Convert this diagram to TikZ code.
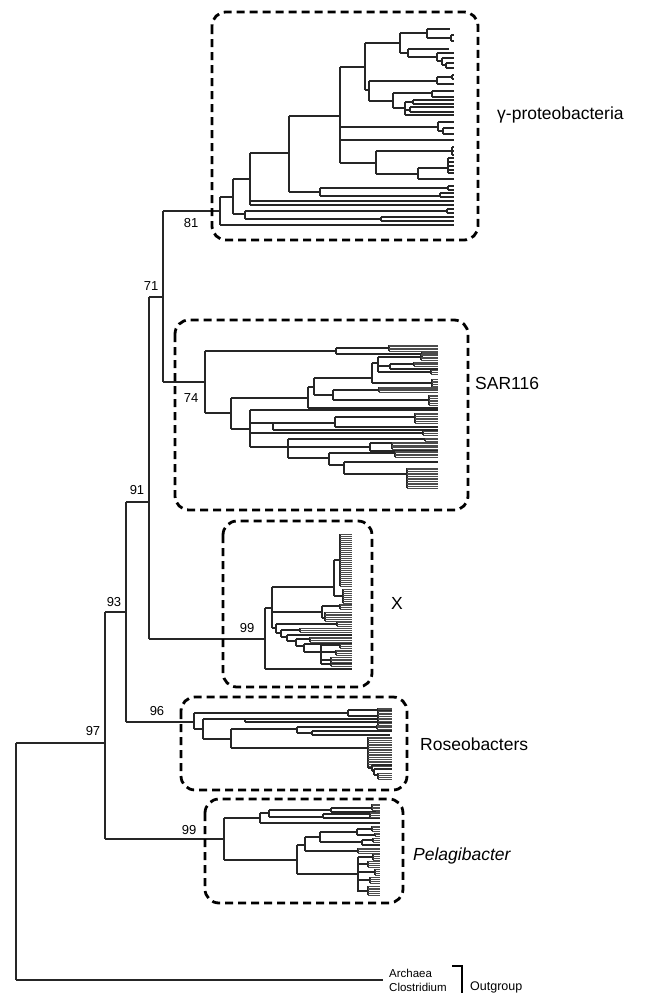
\documentclass[tikz,border=0pt]{standalone}
\usepackage{fontspec}
\setmainfont{Liberation Sans}
\newcommand\Nd[4]{\draw[tr] (#1,#2)--(#1,#3); \foreach \ya/\xb in {#4}{\draw[tr] (#1,\ya)--(\xb,\ya);}}
\newcommand\Dn[5]{\draw[tr] (#1,#2)--(#1,#3); \foreach \ii in {0,...,#4}{\draw[tl] (#1,{#2+(#3-#2)*\ii/#4})--(#5,{#2+(#3-#2)*\ii/#4});}}
\begin{document}
\begin{tikzpicture}[x=1pt,y=-1pt,
 tr/.style={line width=1.1pt, draw=black!85},
 tl/.style={line width=0.6pt, draw=black!70},
 grp/.style={line width=2.8pt, dash pattern=on 8pt off 5pt, rounded corners=14pt},
 num/.style={font=\fontsize{13}{13}\selectfont, inner sep=0pt},
 glab/.style={font=\fontsize{17.5}{17.5}\selectfont, inner sep=0pt, anchor=west},
 small/.style={font=\fontsize{11.5}{11.5}\selectfont, inner sep=0pt, anchor=west}]
\useasboundingbox (0,0) rectangle (655,993);
\fill[white] (0,0) rectangle (655,993);
% ---------- backbone ----------
\Nd{16}{743}{980}{743/105, 980/383}
\Nd{105}{612}{839}{612/126, 839/224}
\Nd{126}{502}{722}{502/149, 722/194}
\Nd{149}{297}{639}{297/163, 639/265}
\Nd{163}{211}{382}{211/220, 382/205}
% ---------- gamma-proteobacteria ----------
\Nd{220}{197}{225}{197/233, 225/454}
\Nd{233}{179}{214}{179/250, 214/245}
\Nd{245}{211}{219}{211/447, 219/381}
\Nd{447}{209}{213}{209/454, 213/454}
\Nd{381}{217}{221}{217/454, 221/454}
\Nd{250}{153}{205}{153/289, 201/454, 205/454}
\Nd{289}{116}{192}{116/340, 192/320}
\Nd{320}{188}{196}{188/448, 196/440}
\Nd{448}{186}{190}{186/454, 190/454}
\Nd{440}{193}{197}{193/454, 197/454}
\Nd{340}{67}{163}{67/365, 127/438, 140/454, 163/376}
\Nd{438}{122}{131}{122/454, 131/443}
\Nd{443}{128}{134}{128/454, 134/454}
\Nd{376}{151}{174}{151/452, 174/418}
\Nd{452}{147}{155}{147/454, 151/454, 155/454}
\Nd{418}{168}{179}{168/448, 179/454}
\Nd{448}{158}{173}{158/454, 162/454, 166/454, 170/454, 173/454}
\Nd{365}{43}{90}{43/400, 90/369}
\Nd{400}{33}{53}{33/427, 53/408}
\Nd{427}{29}{38}{29/450, 38/451}
\Nd{451}{35}{41}{35/454, 41/454}
\Nd{408}{49}{57}{49/449, 57/437}
\Nd{437}{53}{61}{53/454, 61/442}
\Nd{442}{58}{65}{58/454, 65/446}
\Nd{446}{63}{68}{63/454, 68/454}
\Nd{369}{81}{101}{81/437, 101/393}
\Nd{437}{77}{84}{77/452, 84/454}
\Nd{452}{75}{79}{75/454, 79/454}
\Nd{393}{93}{108}{93/432, 108/405}
\Nd{432}{91}{97}{91/454, 97/454}
\Nd{405}{102}{115}{102/413, 110/410, 115/454}
\Nd{413}{100}{104}{100/454, 104/454}
\Nd{410}{107}{112}{107/454, 112/454}
% ---------- SAR116 ----------
\Nd{205}{351}{413}{351/336, 413/231}
\Nd{336}{348}{354}{348/389, 354/422}
\Dn{389}{345}{351}{4}{438}
\Dn{422}{352}{357}{3}{438}
\Nd{231}{398}{429}{398/308, 429/250}
\Nd{308}{387}{408}{387/314, 408/438}
\Nd{314}{378}{395}{378/372, 395/333}
\Nd{372}{363}{383}{363/378, 383/432}
\Nd{378}{357}{372}{357/421, 366/390, 372/431}
\Dn{421}{354}{360}{4}{438}
\Nd{390}{364}{369}{364/414, 369/438}
\Dn{414}{362}{366}{3}{438}
\Dn{431}{370}{374}{2}{438}
\Dn{432}{379}{388}{5}{438}
\Nd{333}{390}{400}{390/379, 400/429}
\Dn{379}{387}{392}{4}{438}
\Dn{429}{395}{405}{6}{438}
\Nd{250}{410}{447}{410/438, 423/273, 433/423, 447/288}
\Nd{273}{423}{430}{423/335, 430/438}
\Nd{335}{417}{427}{417/415, 427/438}
\Dn{415}{413}{423}{6}{438}
\Dn{423}{431}{435}{2}{438}
\Nd{288}{439}{458}{439/425, 447/370, 458/329}
\Dn{425}{438}{441}{2}{438}
\Nd{370}{443}{451}{443/392, 451/438}
\Dn{392}{442}{449}{5}{438}
\Nd{329}{453}{465}{453/395, 465/344}
\Dn{395}{451}{457}{4}{438}
\Nd{344}{462}{474}{462/438, 474/407}
\Dn{407}{468}{488}{12}{438}
% ---------- X ----------
\Nd{265}{608}{669}{608/272, 669/352}
\Nd{272}{587}{628}{587/334, 612/322, 628/276}
\Nd{334}{560}{596}{560/340, 596/343}
\Dn{340}{534}{586}{26}{352}
\Dn{343}{589}{603}{7}{352}
\Nd{322}{606}{618}{606/340, 618/325}
\Dn{340}{604}{609}{3}{352}
\Dn{325}{612}{621}{5}{352}
\Nd{276}{624}{633}{624/337, 633/281}
\Dn{337}{622}{626}{2}{352}
\Nd{281}{630}{637}{630/300, 637/287}
\Dn{300}{628}{632}{2}{352}
\Nd{287}{635}{641}{635/352, 641/296}
\Nd{296}{639}{646}{639/310, 646/304}
\Dn{310}{637}{642}{3}{352}
\Nd{304}{644}{652}{644/352, 652/321}
\Nd{321}{645}{664}{645/340, 652/336, 660/331, 664/352}
\Dn{340}{644}{648}{2}{352}
\Dn{336}{650}{655}{3}{352}
\Dn{331}{657}{666}{5}{352}
% ---------- Roseobacters ----------
\Nd{194}{713}{729}{713/348, 729/203}
\Nd{348}{710}{716}{710/392, 716/378}
\Dn{378}{708}{718}{6}{392}
\Nd{203}{719}{739}{719/245, 739/231}
\Nd{245}{719}{722}{719/378, 722/392}
\Dn{378}{718}{725}{4}{392}
\Nd{231}{729}{748}{729/297, 748/368}
\Nd{297}{727}{733}{727/377, 733/312}
\Dn{377}{725}{729}{3}{392}
\Nd{312}{731}{735}{731/392, 735/390}
\Dn{368}{737}{766}{17}{392}
\Nd{368}{766}{768}{768/372}
\Nd{372}{765}{771}{765/392, 771/374}
\Nd{374}{769}{775}{769/392, 775/378}
\Dn{378}{773}{779}{3}{392}
% ---------- Pelagibacter ----------
\Nd{224}{818}{860}{818/260, 860/297}
\Nd{260}{813}{823}{813/269, 823/380}
\Nd{269}{810}{817}{810/331, 817/323}
\Nd{331}{808}{812}{808/372, 812/376}
\Dn{372}{804}{810}{4}{380}
\Dn{376}{811}{813}{1}{380}
\Nd{323}{814}{818}{814/370, 818/380}
\Dn{370}{812}{817}{3}{380}
\Nd{297}{845}{874}{845/305, 874/358}
\Nd{305}{837}{851}{837/320, 851/358}
\Nd{320}{832}{842}{832/357, 842/362}
\Nd{357}{829}{835}{829/372, 835/375}
\Dn{372}{826}{831}{3}{380}
\Dn{375}{833}{836}{2}{380}
\Nd{362}{840}{845}{840/373, 845/380}
\Dn{373}{838}{842}{2}{380}
\Dn{358}{848}{853}{3}{380}
\Nd{358}{857}{892}{857/373, 864/368, 872/375, 880/370, 891/368}
\Dn{373}{854}{860}{3}{380}
\Dn{368}{861}{867}{3}{380}
\Dn{375}{869}{875}{3}{380}
\Dn{370}{877}{883}{3}{380}
\Dn{368}{886}{895}{5}{380}
% ---------- group boxes ----------
\draw[grp] (212,12) rectangle (478,240);
\draw[grp] (175,320) rectangle (468,510);
\draw[grp] (223,521) rectangle (372,687);
\draw[grp] (181,697) rectangle (407,790);
\draw[grp] (205,799) rectangle (403,903);
% ---------- bootstrap values ----------
\node[num] (n81) at (191,223) {81};
\node[num] (n71) at (151,286) {71};
\node[num] (n74) at (191,398) {74};
\node[num] (n91) at (137,490) {91};
\node[num] (n93) at (114,602) {93};
\node[num] (n97) at (93,731) {97};
\node[num] (n96) at (157,711) {96};
\node[num] (n99x) at (247,628) {99};
\node[num] (n99p) at (189,830) {99};
% ---------- group labels ----------
\node[glab] (gam) at (497,115) {γ-proteobacteria};
\node[glab] (sar) at (475,383) {SAR116};
\node[glab] (xl) at (391,603) {X};
\node[glab] (ros) at (420,744) {Roseobacters};
\node[glab] (pel) at (413,856) {\textit{Pelagibacter}};
% ---------- outgroup ----------
\node[small] (arch) at (389,973) {Archaea};
\node[small] (clos) at (389,987) {Clostridium};
\node[font=\fontsize{12.5}{12.5}\selectfont, inner sep=0pt, anchor=west] (outg) at (470,987) {Outgroup};
\draw[line width=2.6pt] (452,966) -- (462,966) -- (462,995);
\end{tikzpicture}
\end{document}
